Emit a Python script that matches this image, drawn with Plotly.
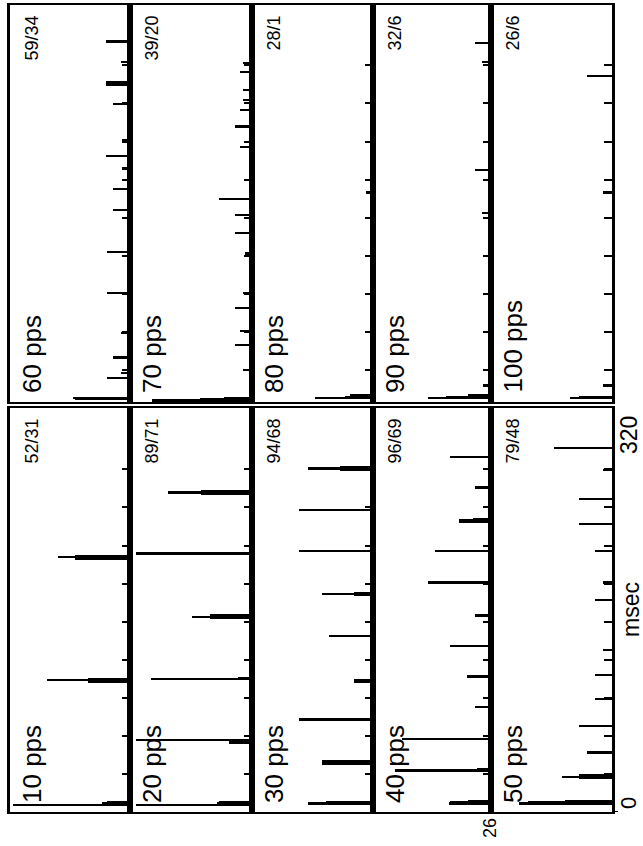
import plotly.graph_objects as go

W, H = 643, 846

# ---------------- data (time in ms, count per bin) ----------------
# bottom row
t_10pps = [6, 7, 8, 103, 104, 105, 200, 201, 202]
c_10pps = [25.3, 6, 5, 9, 18, 9, 12, 15.5, 12]

t_20pps = [6, 7, 8, 55, 56, 57, 105, 106, 153, 154, 155, 204, 251, 252, 253]
c_20pps = [24.8, 7.5, 7, 5, 5, 24.8, 21.6, 3, 9, 12.7, 9, 24.8, 10.8, 18, 10.8]

t_30pps = [7, 8, 38, 39, 40, 73, 103, 104, 139, 171, 172, 173, 206, 238, 270, 271, 272]
c_30pps = [14, 10, 11, 11, 11, 16, 4, 4, 9.5, 4, 11, 4, 16, 16, 7, 14, 7]

t_40pps = [7, 8, 9, 33, 34, 58, 83, 107, 131, 155, 181, 206, 229, 230, 231, 256, 280]
c_40pps = [9.3, 9, 5, 21.2, 3, 19.7, 3.5, 5.2, 9, 3.5, 13.8, 12.3, 7, 7, 4, 3.5, 9]

t_50pps = [7, 8, 9, 27, 28, 29, 47, 68, 89, 108, 128, 167, 181, 206, 227, 247, 270, 287]
c_50pps = [20, 18, 10, 7, 10.8, 7, 5.4, 7, 3.7, 3.7, 2, 3.7, 2, 3.7, 7, 7, 2, 12.5]

# top row
t_60pps = [7, 8, 24, 28, 40, 59, 91, 123, 156, 173, 189, 199, 211, 240, 255, 256, 257, 273, 289]
c_60pps = [12, 12.3, 5, 2, 3.6, 2, 5, 5, 3.6, 3.6, 1.8, 5.2, 1.8, 3.6, 5.2, 5.2, 5.2, 2, 5.2]

t_70pps = [6, 7, 8, 30, 50, 61, 79, 91, 122, 138, 152, 165, 206, 222, 235, 243, 251, 265, 272]
c_70pps = [21.4, 11, 6, 2, 3.7, 2.5, 3.7, 2, 1.5, 3.7, 3.7, 7, 2.5, 3.7, 2.5, 2, 2, 2.5, 2]

t_80pps = [8, 9, 10, 170]
c_80pps = [12.5, 6, 5, 1.5]

t_90pps = [8, 9, 10, 18, 154, 188, 273, 288]
c_90pps = [13.8, 10, 5, 1.7, 2, 3.5, 2, 3.5]

t_100pps = [8, 9, 18, 170, 262]
c_100pps = [9, 7, 2, 2, 5.4]

top_labels = ["60 pps", "70 pps", "80 pps", "90 pps", "100 pps"]
bottom_labels = ["10 pps", "20 pps", "30 pps", "40 pps", "50 pps"]
top_ratios = ["59/34", "39/20", "28/1", "32/6", "26/6"]
bottom_ratios = ["52/31", "89/71", "94/68", "96/69", "79/48"]

tick_ms = [30, 60, 90, 120, 150, 180, 210, 240, 270]
count_max = 26
time_axis_labels = ["0", "320"]
time_axis_title = "msec"
count_label = "26"

top_series = [(t_60pps, c_60pps), (t_70pps, c_70pps), (t_80pps, c_80pps),
              (t_90pps, c_90pps), (t_100pps, c_100pps)]
bottom_series = [(t_10pps, c_10pps), (t_20pps, c_20pps), (t_30pps, c_30pps),
                 (t_40pps, c_40pps), (t_50pps, c_50pps)]

# ---------------- layout geometry (pixels) ----------------
col_left = [10, 130, 252, 373, 491]
col_right = [130, 252, 373, 491, 612]
row_px = {"top": (5, 402), "bottom": (408, 812)}
row_range = {"top": [4.7, 317.6], "bottom": [0, 318.4]}

def px_x(x):
    return x / W

def px_y(y):
    return 1 - y / H

fig = go.Figure()
layout = dict(width=W, height=H, margin=dict(l=0, r=0, t=0, b=0),
              paper_bgcolor="white", plot_bgcolor="white", showlegend=False,
              bargap=0)
annotations = []
FONT = "Liberation Sans, Arial, sans-serif"

idx = 0
for row, series, labels, ratios in [("top", top_series, top_labels, top_ratios),
                                    ("bottom", bottom_series, bottom_labels, bottom_ratios)]:
    ytop, ybot = row_px[row]
    for k in range(5):
        idx += 1
        xa = "x" if idx == 1 else f"x{idx}"
        ya = "y" if idx == 1 else f"y{idx}"
        t, c = series[k]
        fig.add_trace(go.Bar(x=c, y=t, orientation="h", width=1.4,
                             marker=dict(color="black", line=dict(width=0)),
                             xaxis=xa, yaxis=ya, hoverinfo="skip"))
        layout["xaxis" if idx == 1 else f"xaxis{idx}"] = dict(
            domain=[px_x(col_left[k]), px_x(col_right[k])],
            range=[count_max, 0], anchor=ya, showline=True, mirror=True,
            linecolor="black", linewidth=2, showgrid=False, zeroline=False,
            ticks="", showticklabels=False, fixedrange=True)
        layout["yaxis" if idx == 1 else f"yaxis{idx}"] = dict(
            domain=[px_y(ybot), px_y(ytop)], range=row_range[row], anchor=xa,
            side="right", showline=True, mirror=True, linecolor="black",
            linewidth=2.5, showgrid=False, zeroline=False, ticks="inside",
            tickvals=tick_ms, ticklen=8, tickwidth=2, tickcolor="black",
            showticklabels=False, fixedrange=True)
        annotations.append(dict(text=labels[k], textangle=-90, xref="paper", yref="paper",
                                x=px_x(col_left[k] + 5), y=px_y(ybot - 7),
                                xanchor="left", yanchor="bottom", showarrow=False,
                                font=dict(family=FONT, size=26, color="black")))
        annotations.append(dict(text=ratios[k], textangle=-90, xref="paper", yref="paper",
                                x=px_x(col_left[k] + 9), y=px_y(ytop + 9),
                                xanchor="left", yanchor="top", showarrow=False,
                                font=dict(family=FONT, size=18, color="black")))

# time axis labels at the right of the bottom-right panel
annotations.append(dict(text=time_axis_labels[0], textangle=-90, xref="paper", yref="paper",
                        x=px_x(628), y=px_y(803), xanchor="center", yanchor="middle",
                        showarrow=False, font=dict(family=FONT, size=22, color="black")))
annotations.append(dict(text=time_axis_labels[1], textangle=-90, xref="paper", yref="paper",
                        x=px_x(629), y=px_y(435), xanchor="center", yanchor="middle",
                        showarrow=False, font=dict(family=FONT, size=23, color="black")))
annotations.append(dict(text=time_axis_title, textangle=-90, xref="paper", yref="paper",
                        x=px_x(616), y=px_y(610), xanchor="left", yanchor="middle",
                        showarrow=False, font=dict(family=FONT, size=23, color="black")))
annotations.append(dict(text=count_label, textangle=-90, xref="paper", yref="paper",
                        x=px_x(490), y=px_y(828), xanchor="center", yanchor="middle",
                        showarrow=False, font=dict(family=FONT, size=18, color="black")))
layout["annotations"] = annotations

# tick marks for 0 and 320 ms extending outside the bottom-right panel
layout["shapes"] = [
    dict(type="line", xref="paper", yref="y10", x0=px_x(612), x1=px_x(622),
         y0=320, y1=320, line=dict(color="black", width=2)),
    dict(type="line", xref="paper", yref="y10", x0=px_x(612), x1=px_x(618),
         y0=0, y1=0, line=dict(color="black", width=2)),
]

fig.update_layout(**layout)
fig.write_html("out.html")
